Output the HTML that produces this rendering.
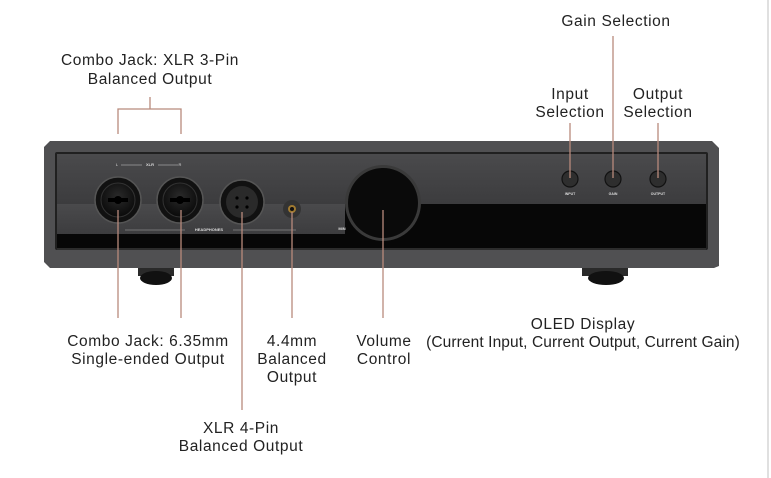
<!DOCTYPE html>
<html><head><style>
body{margin:0;width:771px;height:478px;background:#fff;overflow:hidden;position:relative;font-family:"Liberation Sans",sans-serif;}
svg{position:absolute;left:0;top:0}
</style></head><body>
<svg width="771" height="478" viewBox="0 0 771 478">
<defs>
<radialGradient id="jk" cx="50%" cy="40%" r="60%"><stop offset="0" stop-color="#2a2a2a"/><stop offset="1" stop-color="#0a0a0a"/></radialGradient>
<linearGradient id="face" x1="0" y1="0" x2="0" y2="1"><stop offset="0" stop-color="#4a4a4c"/><stop offset="1" stop-color="#3c3c3e"/></linearGradient>
</defs>
<line x1="768" y1="0" x2="768" y2="478" stroke="#d6d6d6" stroke-width="1.5"/>
<!-- feet -->
<rect x="138" y="262" width="36" height="14" fill="#2a2a2a"/><ellipse cx="156" cy="278" rx="16" ry="7" fill="#111"/>
<rect x="582" y="262" width="46" height="14" fill="#2a2a2a"/><ellipse cx="606" cy="278" rx="18" ry="7" fill="#111"/>
<!-- body -->
<path d="M50 141 H712 L719 148 V266 L714 268 H50 L44 262 V147 Z" fill="#505052"/>
<rect x="55" y="152" width="653" height="98" rx="2" fill="#202020"/>
<rect x="57" y="154" width="649" height="50" fill="url(#face)"/>
<path d="M57 204 H345 V235 H57 Z" fill="url(#face)"/>
<rect x="57" y="234" width="288" height="15" fill="#070707"/>
<rect x="345" y="204" width="361" height="45" fill="#070707"/>
<rect x="57" y="248" width="649" height="2" fill="#2c2c2c"/>
<!-- labels on face -->
<text x="117" y="166" font-size="4" fill="#ddd" text-anchor="middle">L</text>
<line x1="121" y1="165" x2="142" y2="165" stroke="#ccc" stroke-width="0.6"/>
<text x="150" y="166" font-size="4" fill="#ddd" text-anchor="middle" font-weight="bold">XLR</text>
<line x1="158" y1="165" x2="178" y2="165" stroke="#ccc" stroke-width="0.6"/>
<text x="180" y="166" font-size="4" fill="#ddd" text-anchor="middle">R</text>
<line x1="125" y1="230" x2="185" y2="230" stroke="#aaa" stroke-width="0.6"/>
<text x="209" y="231" font-size="4" fill="#ddd" text-anchor="middle" font-weight="bold">HEADPHONES</text>
<line x1="233" y1="230" x2="296" y2="230" stroke="#aaa" stroke-width="0.6"/>
<text x="342" y="230" font-size="4" fill="#ddd" text-anchor="middle" font-weight="bold">MIN</text>
<!-- combo jacks -->
<g><circle cx="118" cy="200" r="23" fill="#111" stroke="#555" stroke-width="1.5"/><circle cx="118" cy="200" r="17" fill="url(#jk)" stroke="#333"/><path d="M108 198 h20 v4 h-20z" fill="#000"/><circle cx="118" cy="200" r="4" fill="#000"/></g>
<g><circle cx="180" cy="200" r="23" fill="#111" stroke="#555" stroke-width="1.5"/><circle cx="180" cy="200" r="17" fill="url(#jk)" stroke="#333"/><path d="M170 198 h20 v4 h-20z" fill="#000"/><circle cx="180" cy="200" r="4" fill="#000"/></g>
<g><circle cx="242" cy="202" r="22" fill="#111" stroke="#555" stroke-width="1.5"/><circle cx="242" cy="202" r="16" fill="#2a2a2a"/>
<circle cx="237" cy="198" r="1.6" fill="#000"/><circle cx="247" cy="198" r="1.6" fill="#000"/><circle cx="237" cy="207" r="1.6" fill="#000"/><circle cx="247" cy="207" r="1.6" fill="#000"/></g>
<circle cx="292" cy="209" r="9" fill="#333"/><circle cx="292" cy="209" r="4" fill="#a07a30"/><circle cx="292" cy="209" r="2" fill="#111"/>
<!-- knob -->
<circle cx="383" cy="203" r="38" fill="#3a3a3a"/><circle cx="383" cy="203" r="35" fill="#0a0a0a"/>
<!-- buttons -->
<g fill="#2e2e2e" stroke="#111" stroke-width="1.2"><circle cx="570" cy="179" r="8"/><circle cx="613" cy="179" r="8"/><circle cx="658" cy="179" r="8"/></g>
<g font-size="3.5" fill="#ddd" text-anchor="middle" font-weight="bold"><text x="570" y="195">INPUT</text><text x="613" y="195">GAIN</text><text x="658" y="195">OUTPUT</text></g>
<!-- leader lines -->
<g stroke="#b88a7c" stroke-width="1.3" fill="none">
<path d="M118 134 V109 H181 V134"/><line x1="150" y1="109" x2="150" y2="97"/>
<line x1="118" y1="210" x2="118" y2="318"/><line x1="181" y1="210" x2="181" y2="318"/>
<line x1="242" y1="212" x2="242" y2="410"/><line x1="292" y1="212" x2="292" y2="318"/>
<line x1="383" y1="210" x2="383" y2="318"/>
<line x1="570" y1="123" x2="570" y2="178"/><line x1="613" y1="36" x2="613" y2="178"/><line x1="658" y1="123" x2="658" y2="178"/>
</g>
<g font-size="15.5" fill="#222" text-anchor="middle" letter-spacing="0.6">
<text x="150" y="65">Combo Jack: XLR 3-Pin</text><text x="150" y="84">Balanced Output</text>
<text x="616" y="26">Gain Selection</text>
<text x="570" y="99">Input</text><text x="570" y="117">Selection</text>
<text x="658" y="99">Output</text><text x="658" y="117">Selection</text>
<text x="148" y="346">Combo Jack: 6.35mm</text><text x="148" y="364">Single-ended Output</text>
<text x="292" y="346">4.4mm</text><text x="292" y="364">Balanced</text><text x="292" y="382">Output</text>
<text x="384" y="346">Volume</text><text x="384" y="364">Control</text>
<text x="583" y="329">OLED Display</text><text x="583" y="347" letter-spacing="0.1">(Current Input, Current Output, Current Gain)</text>
<text x="241" y="433">XLR 4-Pin</text><text x="241" y="451">Balanced Output</text>
</g>
</svg>
</body></html>
